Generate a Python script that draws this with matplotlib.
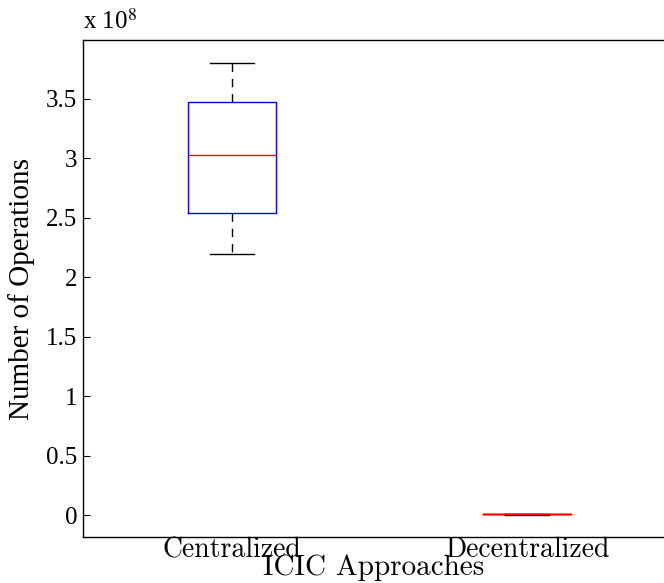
import numpy as np
import matplotlib.pyplot as plt

# values, in units of 1e8 operations
approaches = ["Centralized", "Decentralized"]
whisker_low = [2.195, 0.004]
q1 = [2.537, 0.006]
medians = [3.025, 0.008]
q3 = [3.474, 0.010]
whisker_high = [3.804, 0.012]
yticks = [0, 0.5, 1, 1.5, 2, 2.5, 3, 3.5]
ytick_labels = ['0', '0.5', '1', '1.5', '2', '2.5', '3', '3.5']

plt.rcParams['font.family'] = ['cmr10', 'DejaVu Serif']

fig = plt.figure(figsize=(6.64, 5.83), dpi=100)
ax = fig.add_axes([83 / 664, 46 / 583, 581 / 664, 497 / 583])

stats = []
for i, name in enumerate(approaches):
    stats.append(dict(label=name, whislo=whisker_low[i], q1=q1[i], med=medians[i],
                      q3=q3[i], whishi=whisker_high[i], fliers=[]))

ax.bxp(stats, positions=[1, 2], widths=0.3, showfliers=False,
       boxprops=dict(color='blue', linewidth=1),
       medianprops=dict(color='red', linewidth=1),
       whiskerprops=dict(color='black', linewidth=1, linestyle=(0, (6, 5))),
       capprops=dict(color='black', linewidth=1),
       capwidths=0.15)

ax.set_xlim(0.495, 2.464)
ax.set_ylim(-0.185, 3.995)
ax.set_yticks(yticks)
ax.set_yticklabels(ytick_labels, family='Liberation Serif', fontsize=18)
ax.tick_params(axis='y', direction='in', length=5, pad=4)
ax.tick_params(axis='x', length=0, labelsize=20, pad=0)
ax.spines['right'].set_visible(False)
for s in ['left', 'bottom', 'top']:
    ax.spines[s].set_linewidth(1.0)

ax.set_xlabel("ICIC Approaches", fontsize=21, labelpad=-6)
ax.set_ylabel("Number of Operations", fontsize=21, family='Liberation Serif', labelpad=8)
ax.text(0.0, 1.012, r'x 10$^{8}$', transform=ax.transAxes, fontsize=18,
        family='Liberation Serif', math_fontfamily='stix', ha='left', va='bottom')

fig.savefig("out.png", dpi=100)
